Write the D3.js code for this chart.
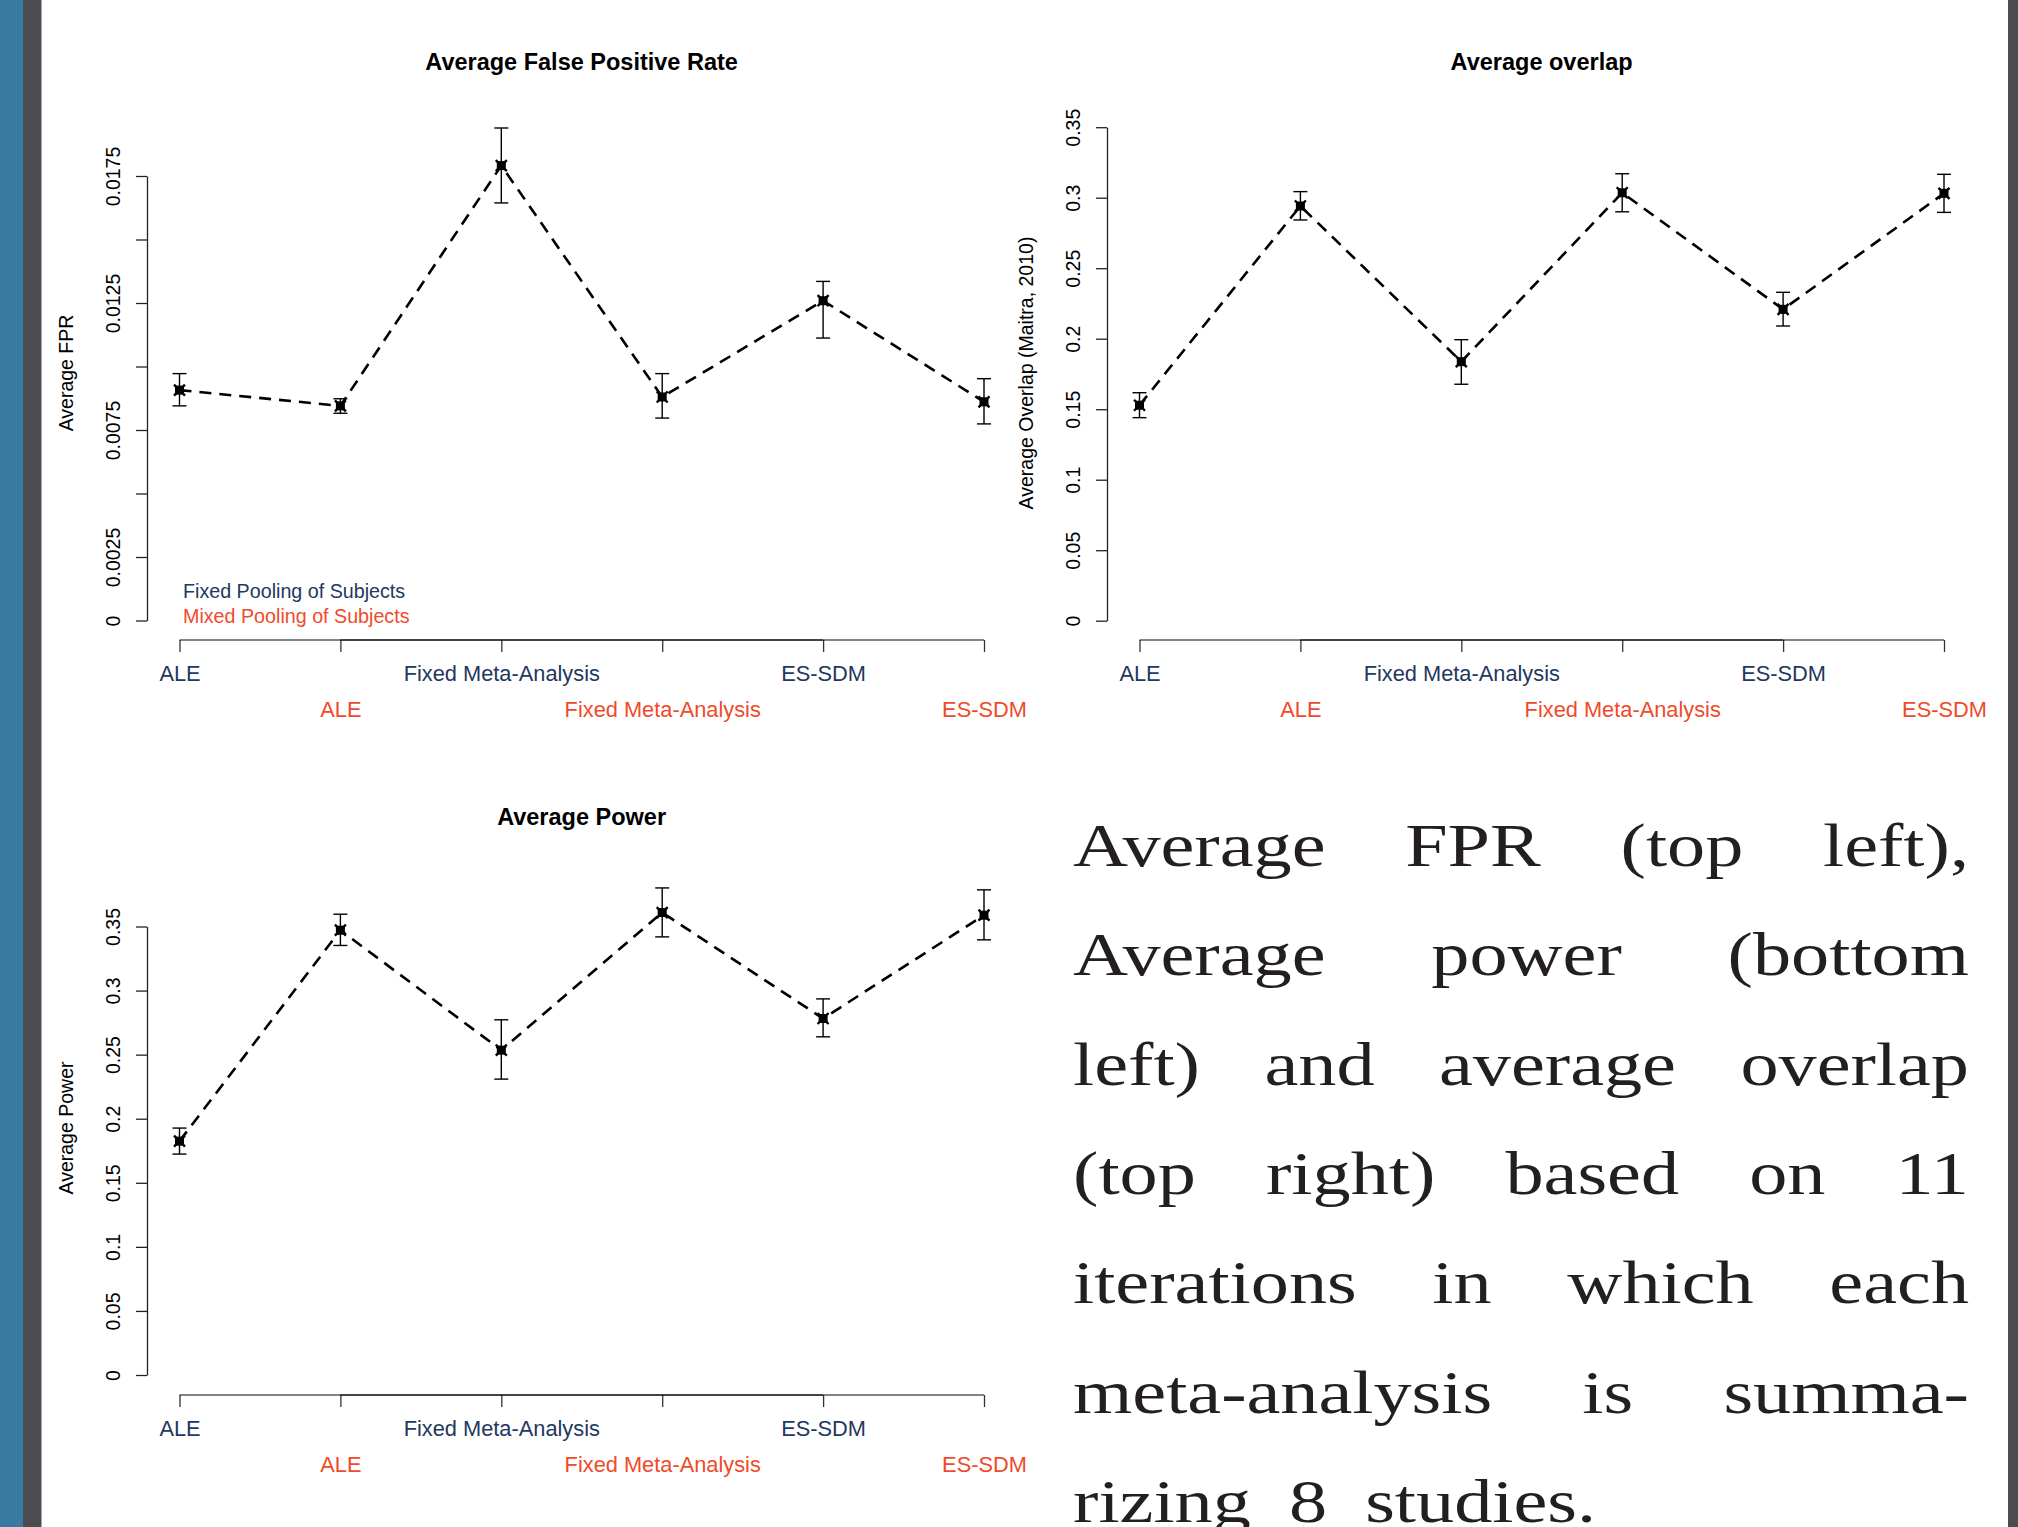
<!DOCTYPE html>
<html>
<head>
<meta charset="utf-8">
<script src="https://cdn.jsdelivr.net/npm/d3@7"></script>
<style>
  body { margin: 0; background: #fff; }
  svg { display: block; }
</style>
</head>
<body>
<svg id="chart" width="2018" height="1527"></svg>
<script>
// categories along the x axis, alternating fixed / mixed pooling
const categories = ['ALE|fixed', 'ALE|mixed', 'FMA|fixed', 'FMA|mixed', 'ESSDM|fixed', 'ESSDM|mixed'];
const categoryLabels = ['ALE', 'ALE', 'Fixed Meta-Analysis', 'Fixed Meta-Analysis', 'ES-SDM', 'ES-SDM'];
const pooling = ['fixed', 'mixed', 'fixed', 'mixed', 'fixed', 'mixed'];
const legendLabels = ['Fixed Pooling of Subjects', 'Mixed Pooling of Subjects'];

// average false positive rate
const fprMean = [0.00907, 0.00845, 0.01791, 0.00880, 0.01259, 0.00861];
const fprLow  = [0.00845, 0.00816, 0.01644, 0.00797, 0.01112, 0.00774];
const fprHigh = [0.00972, 0.00873, 0.01939, 0.00972, 0.01335, 0.00952];
const fprTicks = [0, 0.0025, 0.005, 0.0075, 0.01, 0.0125, 0.015, 0.0175];
const fprTickLabels = ['0', '0.0025', '', '0.0075', '', '0.0125', '', '0.0175'];

// average overlap
const overlapMean = [0.1528, 0.2941, 0.1837, 0.3035, 0.2208, 0.3031];
const overlapLow  = [0.1440, 0.2842, 0.1677, 0.2900, 0.2090, 0.2896];
const overlapHigh = [0.1617, 0.3043, 0.1993, 0.3170, 0.2329, 0.3166];

// average power
const powerMean = [0.1825, 0.3471, 0.2535, 0.3609, 0.2782, 0.3588];
const powerLow  = [0.1724, 0.3352, 0.2309, 0.3419, 0.2639, 0.3396];
const powerHigh = [0.1927, 0.3596, 0.2772, 0.3801, 0.2935, 0.3786];

const propTicks = [0, 0.05, 0.1, 0.15, 0.2, 0.25, 0.3, 0.35];
const propTickLabels = ['0', '0.05', '0.1', '0.15', '0.2', '0.25', '0.3', '0.35'];

const captionLines = [
  'Average FPR (top left),',
  'Average power (bottom',
  'left) and average overlap',
  '(top right) based on 11',
  'iterations in which each',
  'meta-analysis is summa-',
  'rizing 8 studies.'
];

const navy = '#22385e';
const red = '#f04a2a';
const sans = '"Liberation Sans", Arial, Helvetica, sans-serif';

const svg = d3.select('#chart');
svg.append('rect').attr('width', 2018).attr('height', 1527).attr('fill', '#fff');
// slide frame strips
svg.append('rect').attr('x', 0).attr('y', 0).attr('width', 23).attr('height', 1527).attr('fill', '#387aa0');
svg.append('rect').attr('x', 23).attr('y', 0).attr('width', 18.5).attr('height', 1527).attr('fill', '#4b4d50');
svg.append('rect').attr('x', 2008).attr('y', 0).attr('width', 10).attr('height', 1527).attr('fill', '#4b4d50');

const panels = [
  { title: 'Average False Positive Rate', ylab: 'Average FPR', ox: 0, oy: 0,
    mean: fprMean, low: fprLow, high: fprHigh, ticks: fprTicks, tickLabels: fprTickLabels,
    domain: [0, 0.0175], range: [620.5, 176], legend: true },
  { title: 'Average overlap', ylab: 'Average Overlap (Maitra, 2010)', ox: 960, oy: 0,
    mean: overlapMean, low: overlapLow, high: overlapHigh, ticks: propTicks, tickLabels: propTickLabels,
    domain: [0, 0.35], range: [620.7, 127.2], legend: false },
  { title: 'Average Power', ylab: 'Average Power', ox: 0, oy: 755,
    mean: powerMean, low: powerLow, high: powerHigh, ticks: propTicks, tickLabels: propTickLabels,
    domain: [0, 0.35], range: [620, 171.5], legend: false }
];

const x = d3.scalePoint().domain(categories).range([179.5, 984]);

panels.forEach(p => {
  const g = svg.append('g').attr('transform', `translate(${p.ox},${p.oy})`)
    .attr('font-family', sans);
  const y = d3.scaleLinear().domain(p.domain).range(p.range);

  // title
  g.append('text').attr('x', 581.6).attr('y', 70).attr('text-anchor', 'middle')
    .attr('font-size', 23.5).attr('font-weight', 'bold').attr('fill', '#000').text(p.title);

  // y axis
  const yAxis = g.append('g').attr('transform', 'translate(147,0)')
    .call(d3.axisLeft(y).tickValues(p.ticks).tickSize(11).tickSizeOuter(0)
      .tickFormat((d, i) => p.tickLabels[i]));
  yAxis.select('.domain').attr('stroke', '#222').attr('stroke-width', 1.3);
  yAxis.selectAll('.tick line').attr('stroke', '#222').attr('stroke-width', 1.3);
  yAxis.selectAll('.tick text')
    .attr('x', null).attr('dy', null)
    .attr('transform', 'translate(-27,0) rotate(-90)')
    .attr('text-anchor', 'middle').attr('font-size', 19.5).attr('fill', '#000')
    .attr('font-family', sans);

  // y label
  g.append('text').attr('transform', 'translate(73,373) rotate(-90)')
    .attr('text-anchor', 'middle').attr('font-size', 19.5).attr('fill', '#000').text(p.ylab);

  // x axes: one for fixed pooling labels, one for mixed pooling labels
  [['fixed', navy, 681], ['mixed', red, 717]].forEach(([pool, color, base]) => {
    const cats = categories.filter((c, i) => pooling[i] === pool);
    const ax = g.append('g').attr('transform', 'translate(0,640)')
      .call(d3.axisBottom(x).tickValues(cats).tickSize(12).tickSizeOuter(0)
        .tickFormat(d => categoryLabels[categories.indexOf(d)]));
    ax.select('.domain').remove();
    ax.append('line').attr('x1', x(cats[0])).attr('x2', x(cats[cats.length - 1]))
      .attr('y1', 0).attr('y2', 0).attr('stroke', '#000').attr('stroke-opacity', 0.65).attr('stroke-width', 1.6);
    ax.selectAll('.tick line').attr('stroke', '#000').attr('stroke-opacity', 0.8).attr('stroke-width', 1.3);
    ax.selectAll('.tick text').attr('y', base - 640).attr('dy', null)
      .attr('font-size', 21.8).attr('fill', color).attr('font-family', sans);
  });

  // dashed connecting line
  const line = d3.line().x((d, i) => x(categories[i])).y(d => y(d));
  g.append('path').datum(p.mean).attr('d', line).attr('fill', 'none')
    .attr('stroke', '#000').attr('stroke-width', 2.6).attr('stroke-dasharray', '12,8');

  // error bars
  const eb = g.selectAll('.eb').data(p.mean).join('g').attr('class', 'eb');
  eb.append('line').attr('x1', (d, i) => x(categories[i])).attr('x2', (d, i) => x(categories[i]))
    .attr('y1', (d, i) => y(p.low[i])).attr('y2', (d, i) => y(p.high[i]))
    .attr('stroke', '#000').attr('stroke-width', 1.4);
  ['low', 'high'].forEach(k => {
    eb.append('line').attr('x1', (d, i) => x(categories[i]) - 7).attr('x2', (d, i) => x(categories[i]) + 7)
      .attr('y1', (d, i) => y(p[k][i])).attr('y2', (d, i) => y(p[k][i]))
      .attr('stroke', '#000').attr('stroke-width', 1.4);
  });

  // point markers
  const pts = g.selectAll('.pt').data(p.mean).join('g').attr('class', 'pt')
    .attr('transform', (d, i) => `translate(${x(categories[i])},${y(d)})`);
  pts.append('rect').attr('x', -4.5).attr('y', -4.5).attr('width', 9).attr('height', 9).attr('fill', '#000');
  pts.append('path').attr('d', 'M-5.5,-5.5L5.5,5.5M-5.5,5.5L5.5,-5.5')
    .attr('stroke', '#000').attr('stroke-width', 2.4);

  if (p.legend) {
    g.selectAll('.leg').data(legendLabels).join('text').attr('class', 'leg')
      .attr('x', 183).attr('y', (d, i) => 598 + i * 25)
      .attr('font-size', 19.7).attr('fill', (d, i) => i === 0 ? navy : red).text(d => d);
  }
});

// caption paragraph, justified word by word
const para = svg.append('g').attr('font-family', '"Liberation Serif", "Times New Roman", serif')
  .attr('font-size', 61).attr('fill', '#231f20');
const sx = 1.25;
const paraLeft = 1073, paraRight = 1969, firstBase = 866, lineStep = 109.3;
captionLines.forEach((ln, li) => {
  const row = para.append('g')
    .attr('transform', `translate(${paraLeft},${firstBase + li * lineStep}) scale(${sx},1)`);
  const words = ln.split(' ');
  const nodes = words.map(w => row.append('text').text(w));
  const widths = nodes.map(n => n.node().getComputedTextLength());
  const avail = (paraRight - paraLeft) / sx;
  const last = li === captionLines.length - 1;
  const gap = last ? 0.5 * 61 : (avail - d3.sum(widths)) / (words.length - 1);
  let cx = 0;
  nodes.forEach((n, i) => { n.attr('x', cx); cx += widths[i] + gap; });
});
</script>
</body>
</html>
